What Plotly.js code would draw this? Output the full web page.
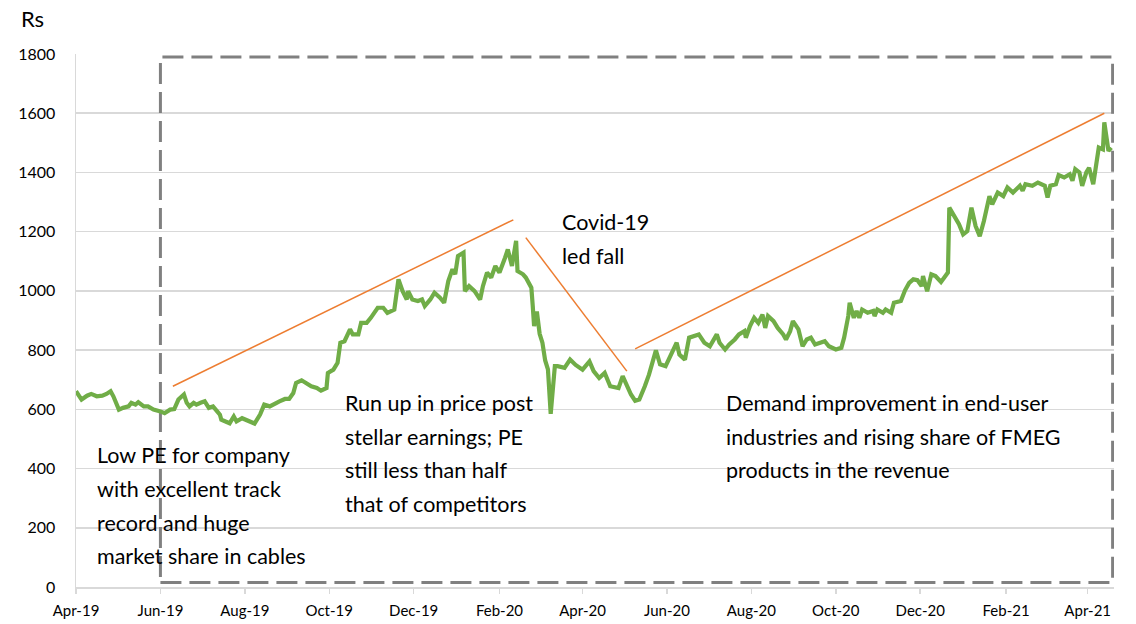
<!DOCTYPE html>
<html>
<head>
<meta charset="utf-8">
<script src="https://cdn.plot.ly/plotly-3.0.1.min.js"></script>
<style>
  html, body { margin: 0; padding: 0; background: #ffffff; }
  #chart { width: 1136px; height: 624px; }
</style>
</head>
<body>
<div id="chart"></div>
<script>
// ---------- DATA ----------
const priceDates = [
'2019-04-01','2019-04-05','2019-04-09','2019-04-12','2019-04-16','2019-04-20','2019-04-23','2019-04-26','2019-04-28',
'2019-05-02','2019-05-05','2019-05-09','2019-05-11','2019-05-14','2019-05-16','2019-05-20','2019-05-23','2019-05-27',
'2019-06-01','2019-06-04','2019-06-08','2019-06-11','2019-06-14','2019-06-18','2019-06-20','2019-06-22','2019-06-25','2019-06-27','2019-06-30',
'2019-07-03','2019-07-06','2019-07-09','2019-07-12','2019-07-14','2019-07-15','2019-07-19','2019-07-21','2019-07-24','2019-07-26','2019-07-30',
'2019-08-02','2019-08-06','2019-08-08','2019-08-12','2019-08-15','2019-08-19','2019-08-23','2019-08-26','2019-08-30',
'2019-09-02','2019-09-05','2019-09-07','2019-09-11','2019-09-15','2019-09-18','2019-09-22','2019-09-25','2019-09-29','2019-09-30',
'2019-10-04','2019-10-07','2019-10-09','2019-10-12','2019-10-16','2019-10-18','2019-10-22','2019-10-24','2019-10-28','2019-10-31',
'2019-11-05','2019-11-09','2019-11-12','2019-11-17','2019-11-20','2019-11-23','2019-11-26','2019-11-27','2019-11-30',
'2019-12-04','2019-12-07','2019-12-09','2019-12-13','2019-12-16','2019-12-20','2019-12-23','2019-12-26','2019-12-29','2019-12-31',
'2020-01-02','2020-01-06','2020-01-07','2020-01-10','2020-01-14','2020-01-18','2020-01-20','2020-01-23','2020-01-26','2020-01-29',
'2020-02-01','2020-02-05','2020-02-07','2020-02-10','2020-02-13','2020-02-14','2020-02-18','2020-02-20','2020-02-24','2020-02-25','2020-02-26','2020-02-28',
'2020-03-01','2020-03-03','2020-03-05','2020-03-07','2020-03-09','2020-03-12','2020-03-14','2020-03-19','2020-03-23','2020-03-27',
'2020-04-01','2020-04-06','2020-04-09','2020-04-13','2020-04-17','2020-04-21','2020-04-27','2020-04-30',
'2020-05-03','2020-05-06','2020-05-09','2020-05-12','2020-05-16','2020-05-19','2020-05-24','2020-05-27','2020-05-31',
'2020-06-04','2020-06-08','2020-06-10','2020-06-14','2020-06-17','2020-06-20','2020-06-24','2020-06-28',
'2020-07-02','2020-07-07','2020-07-09','2020-07-13','2020-07-16','2020-07-20','2020-07-23','2020-07-27','2020-07-28','2020-07-31',
'2020-08-03','2020-08-06','2020-08-09','2020-08-11','2020-08-13','2020-08-17','2020-08-20','2020-08-24','2020-08-26','2020-08-29','2020-08-31',
'2020-09-04','2020-09-07','2020-09-10','2020-09-13','2020-09-16','2020-09-19','2020-09-23','2020-09-26',
'2020-10-01','2020-10-05','2020-10-07','2020-10-10','2020-10-11','2020-10-14','2020-10-16','2020-10-18','2020-10-20','2020-10-24','2020-10-28','2020-10-29','2020-10-31',
'2020-11-04','2020-11-06','2020-11-10','2020-11-12','2020-11-17','2020-11-20','2020-11-23','2020-11-26','2020-11-29',
'2020-12-02','2020-12-03','2020-12-06','2020-12-09','2020-12-12','2020-12-16','2020-12-21','2020-12-22','2020-12-26','2020-12-29',
'2021-01-01','2021-01-04','2021-01-07','2021-01-10','2021-01-13','2021-01-16','2021-01-20','2021-01-22','2021-01-26','2021-01-30',
'2021-02-02','2021-02-06','2021-02-11','2021-02-13','2021-02-15','2021-02-20','2021-02-24',
'2021-03-01','2021-03-03','2021-03-05','2021-03-09','2021-03-11','2021-03-15','2021-03-19','2021-03-21','2021-03-23','2021-03-26','2021-03-28','2021-03-31',
'2021-04-02','2021-04-05','2021-04-07','2021-04-09','2021-04-12','2021-04-13','2021-04-16','2021-04-18'
];
const priceValues = [
661,633,646,652,644,646,652,661,644,
599,605,610,622,616,624,610,610,599,
593,587,599,601,633,650,622,610,622,616,622,
627,605,610,593,582,565,559,553,576,559,570,
565,559,552,582,616,610,622,627,635,
635,655,689,698,687,678,672,663,672,723,
734,757,825,830,870,853,853,892,892,909,
943,943,926,937,1039,999,971,999,971,
966,971,949,971,994,977,960,1033,1073,1056,
1118,1129,999,1016,999,971,1016,1062,1045,1084,
1062,1112,1140,1084,1169,1067,1056,1045,1011,950,881,930,
855,825,765,735,585,746,746,740,768,750,
734,762,729,706,723,678,672,712,
678,650,629,633,678,717,799,752,746,
788,825,785,768,842,847,853,825,
813,853,825,802,819,836,853,864,842,881,
909,892,920,875,915,898,875,853,836,864,898,
870,813,836,842,819,825,830,813,
802,808,842,915,960,909,932,909,937,926,932,915,937,
926,937,926,960,966,1002,1027,1039,1036,
1016,1050,999,1056,1050,1030,1062,1281,1247,1225,
1191,1202,1281,1219,1185,1236,1320,1292,1332,1320,
1349,1332,1355,1338,1360,1355,1366,
1355,1315,1355,1360,1391,1383,1394,1372,1411,1400,1355,1400,
1416,1360,1434,1484,1478,1569,1473,1484
];

// Orange trend lines
const trendUp1Dates = ['2019-06-10', '2020-02-11'];
const trendUp1Values = [678, 1240];
const trendDownDates = ['2020-02-20', '2020-05-03'];
const trendDownValues = [1180, 729];
const trendUp2Dates = ['2020-05-09', '2021-04-13'];
const trendUp2Values = [804, 1600];

// Dashed frame (data coordinates)
const frameDates = ['2019-06-01', '2021-04-19'];
const frameValues = [15, 1790];

// Axis ticks
const xTickDates = ['2019-04-01','2019-06-01','2019-08-01','2019-10-01','2019-12-01','2020-02-01','2020-04-01',
                    '2020-06-01','2020-08-01','2020-10-01','2020-12-01','2021-02-01','2021-04-01'];
const xTickLabels = ['Apr-19','Jun-19','Aug-19','Oct-19','Dec-19','Feb-20','Apr-20',
                     'Jun-20','Aug-20','Oct-20','Dec-20','Feb-21','Apr-21'];
const yTickValues = [0,200,400,600,800,1000,1200,1400,1600,1800];
const xRange = ['2019-04-01', '2021-04-20'];
const yRange = [0, 1800];

// Texts (one entry per line)
const unitLabel = 'Rs';
const noteLowPE = ['Low PE for company', 'with excellent track', 'record and huge', 'market share in cables'];
const noteRunUp = ['Run up in price post', 'stellar earnings; PE', 'still less than half', 'that of competitors'];
const noteCovid = ['Covid-19', 'led fall'];
const noteDemand = ['Demand improvement in end-user', 'industries and rising share of FMEG', 'products in the revenue'];

// ---------- CHART ----------
const FONT = 'Lato, "Liberation Sans", sans-serif';
const GREEN = '#70AD47';
const ORANGE = '#ED7D31';
const GRID = '#d9d9d9';

const W = 1136, H = 624;
const M = { l: 76, r: 22, t: 54, b: 37 };
const PW = W - M.l - M.r, PH = H - M.t - M.b;
const px2x = (px) => (px - M.l) / PW;
const px2y = (py) => (H - M.b - py) / PH;

const orangeLine = { color: ORANGE, width: 1.5 };
const traces = [
  { x: trendUp1Dates, y: trendUp1Values, type: 'scatter', mode: 'lines', line: orangeLine, hoverinfo: 'skip' },
  { x: trendDownDates, y: trendDownValues, type: 'scatter', mode: 'lines', line: orangeLine, hoverinfo: 'skip' },
  { x: trendUp2Dates, y: trendUp2Values, type: 'scatter', mode: 'lines', line: orangeLine, hoverinfo: 'skip' },
  { x: priceDates, y: priceValues, type: 'scatter', mode: 'lines',
    line: { color: GREEN, width: 4.2, shape: 'linear' }, name: 'Price' }
];

function whiteBox(l, r, t, b) {
  return { type: 'rect', xref: 'paper', yref: 'paper', x0: px2x(l), x1: px2x(r), y0: px2y(b), y1: px2y(t),
           fillcolor: '#ffffff', line: { width: 0 }, layer: 'between' };
}

const shapes = [
  { type: 'rect', xref: 'x', yref: 'y',
    x0: frameDates[0], x1: frameDates[1], y0: frameValues[0], y1: frameValues[1],
    line: { color: '#808080', width: 3, dash: '21px,8px' }, fillcolor: 'rgba(0,0,0,0)', layer: 'between' },
  whiteBox(82, 300, 430, 561),
  whiteBox(327, 547, 388, 520),
  whiteBox(545, 665, 205, 278),
  whiteBox(720, 1063, 388, 488)
];

const annFont = { family: FONT, size: 21.5, color: '#000000' };
function noteLines(lines, leftPx, firstCenterPx, pitchPx) {
  return lines.map((t, i) => ({
    text: t, xref: 'paper', yref: 'paper', x: px2x(leftPx), y: px2y(firstCenterPx + i * pitchPx),
    xanchor: 'left', yanchor: 'middle', align: 'left', showarrow: false, font: annFont,
    borderpad: 0
  }));
}

const layout = {
  width: W, height: H,
  margin: M,
  paper_bgcolor: '#ffffff', plot_bgcolor: '#ffffff',
  showlegend: false,
  font: { family: FONT, size: 16, color: '#000000' },
  xaxis: {
    type: 'date', range: xRange,
    tickmode: 'array', tickvals: xTickDates, ticktext: xTickLabels,
    showgrid: false, zeroline: false,
    showline: true, linecolor: GRID, linewidth: 1.5,
    ticks: 'outside', ticklen: 5, tickcolor: GRID, tickwidth: 1.5,
    tickfont: { family: FONT, size: 15, color: '#000000' },
    ticklabelstandoff: 4
  },
  yaxis: {
    range: yRange, tickmode: 'array', tickvals: yTickValues,
    showgrid: true, gridcolor: GRID, gridwidth: 1.5, zeroline: false,
    showline: true, linecolor: GRID, linewidth: 1.5,
    ticks: '', tickfont: { family: FONT, size: 16, color: '#000000' },
    ticklabelstandoff: 16
  },
  shapes: shapes,
  annotations: [
    { text: unitLabel, xref: 'paper', yref: 'paper', x: px2x(20), y: px2y(18), xanchor: 'left', yanchor: 'middle',
      showarrow: false, font: { family: FONT, size: 22, color: '#000000' }, borderpad: 0 }
  ].concat(
    noteLines(noteLowPE, 96, 455, 33.8),
    noteLines(noteRunUp, 344, 403, 33.6),
    noteLines(noteCovid, 561, 222, 34),
    noteLines(noteDemand, 725, 403, 33.6)
  )
};

Plotly.newPlot('chart', traces, layout, { staticPlot: true, displayModeBar: false });
</script>
</body>
</html>
